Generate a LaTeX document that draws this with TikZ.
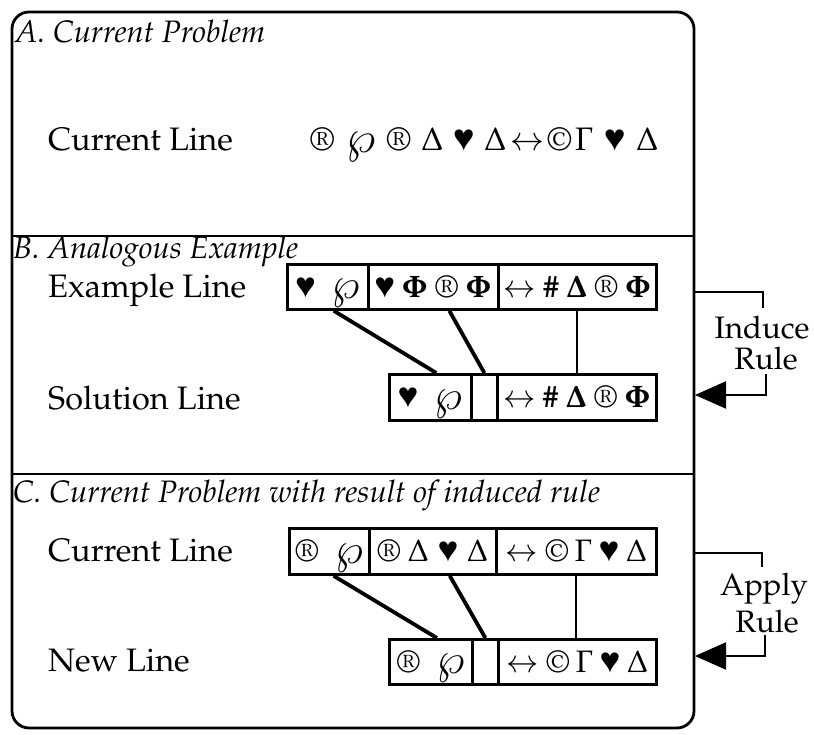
\documentclass[tikz,border=0pt]{standalone}
\usepackage[T1]{fontenc}
\usepackage{mathpazo}
\usepackage{pifont}
\usepackage{graphicx}
\usetikzlibrary{arrows.meta,calc}

\newcommand{\myheart}{\scalebox{0.9}{\ding{170}}}
\newcommand{\regR}{\textregistered}
\newcommand{\bigwp}{\raisebox{-0.05em}{\scalebox{1.35}{$\wp$}}}

\tikzset{
  panel/.style={line width=2.8pt},
  body/.style={inner sep=0pt, font=\fontsize{32.5}{38}\selectfont},
  note/.style={inner sep=0pt, font=\fontsize{31}{36}\selectfont},
  title/.style={inner sep=0pt, font=\fontsize{31}{35}\selectfont\itshape},
  cell/.style={draw, line width=2.8pt, inner sep=0pt, anchor=north west,
    text height=21pt, text depth=0pt, font=\fontsize{31}{36}\selectfont},
  link/.style={line width=3.8pt},
  thinlink/.style={line width=2pt},
  bracket/.style={line width=2.2pt},
  ruletip/.style={-{Triangle[length=31pt,width=27pt]}}
}

\begin{document}
\begin{tikzpicture}[x=1pt,y=-1pt]
\useasboundingbox (0,0) rectangle (814,735);

% frame with three panels
\draw[panel, rounded corners=17pt] (12,12) rectangle (694,728);
\draw[panel] (12,236) -- (694,236);
\draw[panel] (12,474) -- (694,474);

% panel titles
\node[title, anchor=base west] (ta) at (15,43) {A. Current Problem};
\node[title, anchor=base west] (tb) at (13,259) {B. Analogous Example};
\node[title, anchor=base west] (tc) at (13,502) {C. Current Problem with result of induced rule};

% A: current line
\node[body, anchor=base west] (la) at (48,151) {Current Line};
\node[body, anchor=base west] (sa) at (310,151)
  {\regR\hspace{11pt}\bigwp\hspace{11pt}\regR\hspace{10pt}$\Delta$\hspace{10pt}\myheart\hspace{10pt}$\Delta$\hspace{3pt}$\leftrightarrow$\hspace{3pt}\textcopyright\hspace{3pt}$\Gamma$\hspace{11pt}\myheart\hspace{11pt}$\Delta$};

% B: example and solution lines
\node[body, anchor=base west] (lex) at (48,298) {Example Line};
\node[body, anchor=base west] (lsol) at (48,409) {Solution Line};

\node[cell, minimum width=81pt, minimum height=45pt] (e1) at (286,263)
  {\myheart\hspace{16pt}\bigwp};
\node[cell, minimum width=130pt, minimum height=45pt] (e2) at (367,263)
  {\myheart\hspace{7pt}$\mathbf{\Phi}$\hspace{7pt}\regR\hspace{7pt}$\mathbf{\Phi}$};
\node[cell, minimum width=158pt, minimum height=45pt] (e3) at (497,263)
  {$\leftrightarrow$\hspace{7pt}\textbf{\#}\hspace{7pt}$\mathbf{\Delta}$\hspace{7pt}\regR\hspace{7pt}$\mathbf{\Phi}$};

\node[cell, minimum width=82pt, minimum height=46pt] (s1) at (388,373)
  {\myheart\hspace{16pt}\bigwp};
\node[cell, minimum width=26pt, minimum height=46pt] (s2) at (470,373) {};
\node[cell, minimum width=159pt, minimum height=46pt] (s3) at (496,373)
  {$\leftrightarrow$\hspace{7pt}\textbf{\#}\hspace{7pt}$\mathbf{\Delta}$\hspace{7pt}\regR\hspace{7pt}$\mathbf{\Phi}$};

\draw[link] ($(e1.south west)!0.57!(e1.south east)$) -- ($(s1.north west)!0.57!(s1.north east)$);
\draw[link] ($(e2.south west)!0.62!(e2.south east)$) -- (s2.north);
\draw[thinlink] (e3.south) -- (e3.south |- s3.north);

% C: current line and new line
\node[body, anchor=base west] (lcur) at (48,561) {Current Line};
\node[body, anchor=base west] (lnew) at (48,671) {New Line};

\node[cell, minimum width=80pt, minimum height=46pt] (c1) at (288,527)
  {\regR\hspace{16pt}\bigwp};
\node[cell, minimum width=127pt, minimum height=46pt] (c2) at (368,527)
  {\regR\hspace{7pt}$\Delta$\hspace{9pt}\myheart\hspace{9pt}$\Delta$};
\node[cell, minimum width=160pt, minimum height=46pt] (c3) at (495,527)
  {$\leftrightarrow$\hspace{7pt}\textcopyright\hspace{6pt}$\Gamma$\hspace{7pt}\myheart\hspace{7pt}$\Delta$};

\node[cell, minimum width=83pt, minimum height=45pt] (n1) at (388,638)
  {\regR\hspace{16pt}\bigwp};
\node[cell, minimum width=26pt, minimum height=45pt] (n2) at (471,638) {};
\node[cell, minimum width=158pt, minimum height=45pt] (n3) at (497,638)
  {$\leftrightarrow$\hspace{7pt}\textcopyright\hspace{6pt}$\Gamma$\hspace{7pt}\myheart\hspace{7pt}$\Delta$};

\draw[link] ($(c1.south west)!0.55!(c1.south east)$) -- ($(n1.north west)!0.57!(n1.north east)$);
\draw[link] ($(c2.south west)!0.63!(c2.south east)$) -- (n2.north);
\draw[thinlink] (c3.south) -- (c3.south |- n3.north);

% side notes: induce and apply
\coordinate (fb) at (694,292);
\coordinate (fbtip) at (695,395);
\node[note, anchor=base] (ind) at (762,338) {Induce};
\node[note, anchor=base] (indr) at (766,370) {Rule};
\draw[bracket] (fb) -| ($(ind.north)+(1,-7)$);
\draw[bracket, ruletip] ($(indr.south)+(0,3)$) |- (fbtip);

\coordinate (fc) at (694,553);
\coordinate (fctip) at (695,656);
\node[note, anchor=base] (app) at (764,595) {Apply};
\node[note, anchor=base] (appr) at (767,632) {Rule};
\draw[bracket] (fc) -| ($(app.north)+(-2,-5)$);
\draw[bracket, ruletip] ($(appr.south)+(-2,2)$) |- (fctip);
\end{tikzpicture}
\end{document}
